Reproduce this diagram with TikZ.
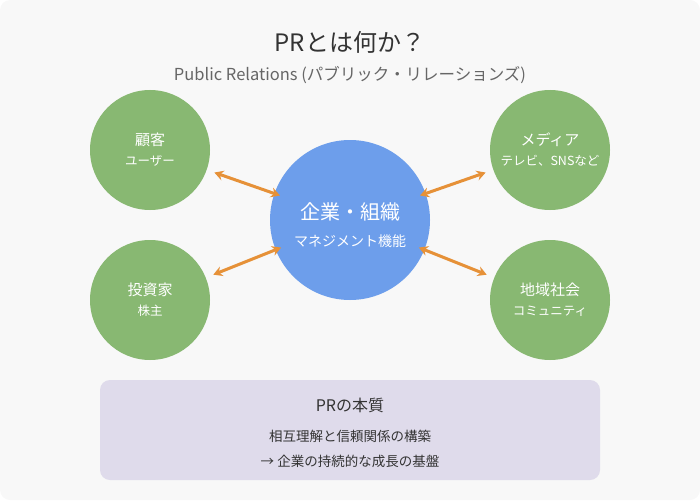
\documentclass[tikz,border=0pt]{standalone}
\usepackage{fontspec}
\setmainfont{Noto Sans CJK JP}
\usetikzlibrary{arrows.meta}
\definecolor{bgcol}{HTML}{F8F8F8}
\definecolor{grn}{HTML}{88B872}
\definecolor{blu}{HTML}{6D9EEB}
\definecolor{org}{HTML}{E69138}
\definecolor{lav}{HTML}{DFDBEB}
\begin{document}
\begin{tikzpicture}[x=1pt,y=-1pt,
  side/.style={circle,fill=grn,minimum size=120pt,inner sep=0pt},
  core/.style={circle,fill=blu,minimum size=160pt,inner sep=0pt},
  link/.style={<->,draw=org,line width=3pt,
    >={Stealth[length=9pt,width=10pt,inset=3pt]}},
  lbl/.style={text=white,font=\fontsize{15}{18}\selectfont},
  sublbl/.style={text=white,font=\fontsize{12.5}{15}\selectfont}]
\useasboundingbox (0,0) rectangle (700,500);
\fill[bgcol,rounded corners=10pt] (0,0) rectangle (700,500);
\node[text=black!80,font=\fontsize{24}{28}\selectfont] (title) at (350,42) {PRとは何か？};
\node[text=black!60,font=\fontsize{16.5}{19}\selectfont] (sub) at (350,75) {Public Relations (パブリック・リレーションズ)};
\node[core] (corp) at (350,220) {};
\node[side] (cust) at (150,150) {};
\node[side] (inv) at (150,300) {};
\node[side] (media) at (550,150) {};
\node[side] (comm) at (550,300) {};
\draw[link,shorten <=-6pt,shorten >=8pt] (corp) -- (cust);
\draw[link,shorten <=-6pt,shorten >=8pt] (corp) -- (inv);
\draw[link,shorten <=-6pt,shorten >=8pt] (corp) -- (media);
\draw[link,shorten <=-6pt,shorten >=8pt] (corp) -- (comm);
\node[text=white,font=\fontsize{20}{24}\selectfont] (corpa) at (350,212) {企業・組織};
\node[text=white,font=\fontsize{14}{17}\selectfont] (corpb) at (350,241) {マネジメント機能};
\node[lbl] (custa) at (150,140) {顧客};
\node[sublbl] (custb) at (150,161) {ユーザー};
\node[lbl] (inva) at (150,290) {投資家};
\node[sublbl] (invb) at (150,311) {株主};
\node[lbl] (mediaa) at (550,140) {メディア};
\node[sublbl] (mediab) at (550,161) {テレビ、SNSなど};
\node[lbl] (comma) at (550,290) {地域社会};
\node[sublbl] (commb) at (550,311) {コミュニティ};
\fill[lav,rounded corners=10pt] (100,380) rectangle (600,480);
\node[text=black!80,font=\fontsize{16}{19}\selectfont] (core) at (350,405) {PRの本質};
\node[text=black!80,font=\fontsize{13.5}{16}\selectfont] (la) at (350,436) {相互理解と信頼関係の構築};
\node[text=black!80,font=\fontsize{13.5}{16}\selectfont] (lb) at (350,461) {→ 企業の持続的な成長の基盤};
\end{tikzpicture}
\end{document}
